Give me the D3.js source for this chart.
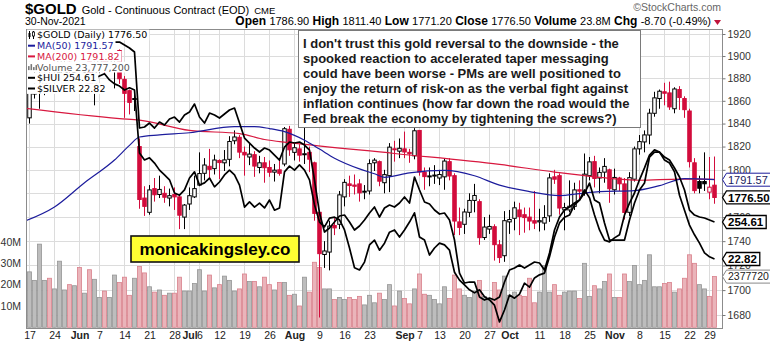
<!DOCTYPE html>
<html>
<head>
<meta charset="utf-8">
<title>$GOLD Daily</title>
<script src="https://cdn.jsdelivr.net/npm/d3@7/dist/d3.min.js"></script>
<style>
  html, body { margin: 0; padding: 0; background: #fff; }
  svg { display: block; }
</style>
</head>
<body>
<svg id="chart" width="770" height="344"></svg>
<script>
// ---- trading days ----
const dates = [
  "2021-05-14","2021-05-17","2021-05-18","2021-05-19","2021-05-20","2021-05-21","2021-05-24","2021-05-25","2021-05-26","2021-05-27","2021-05-28",
  "2021-06-01","2021-06-02","2021-06-03","2021-06-04","2021-06-07","2021-06-08","2021-06-09","2021-06-10","2021-06-11","2021-06-14","2021-06-15","2021-06-16","2021-06-17","2021-06-18","2021-06-21","2021-06-22","2021-06-23","2021-06-24","2021-06-25","2021-06-28","2021-06-29","2021-06-30",
  "2021-07-01","2021-07-02","2021-07-06","2021-07-07","2021-07-08","2021-07-09","2021-07-12","2021-07-13","2021-07-14","2021-07-15","2021-07-16","2021-07-19","2021-07-20","2021-07-21","2021-07-22","2021-07-23","2021-07-26","2021-07-27","2021-07-28","2021-07-29","2021-07-30",
  "2021-08-02","2021-08-03","2021-08-04","2021-08-05","2021-08-06","2021-08-09","2021-08-10","2021-08-11","2021-08-12","2021-08-13","2021-08-16","2021-08-17","2021-08-18","2021-08-19","2021-08-20","2021-08-23","2021-08-24","2021-08-25","2021-08-26","2021-08-27","2021-08-30","2021-08-31",
  "2021-09-01","2021-09-02","2021-09-03","2021-09-07","2021-09-08","2021-09-09","2021-09-10","2021-09-13","2021-09-14","2021-09-15","2021-09-16","2021-09-17","2021-09-20","2021-09-21","2021-09-22","2021-09-23","2021-09-24","2021-09-27","2021-09-28","2021-09-29","2021-09-30",
  "2021-10-01","2021-10-04","2021-10-05","2021-10-06","2021-10-07","2021-10-08","2021-10-11","2021-10-12","2021-10-13","2021-10-14","2021-10-15","2021-10-18","2021-10-19","2021-10-20","2021-10-21","2021-10-22","2021-10-25","2021-10-26","2021-10-27","2021-10-28","2021-10-29",
  "2021-11-01","2021-11-02","2021-11-03","2021-11-04","2021-11-05","2021-11-08","2021-11-09","2021-11-10","2021-11-11","2021-11-12","2021-11-15","2021-11-16","2021-11-17","2021-11-18","2021-11-19","2021-11-22","2021-11-23","2021-11-24","2021-11-26","2021-11-29","2021-11-30"
];

// ---- $GOLD daily OHLC ----
const open = [
  1826,1845,1866,1868,1872,1878,1877,1881,1899,1900,1897,
  1906,1900,1907,1872,1891,1899,1894,1896,1905,1879,1869,1862,1820,1776,1764,1784,1779,1780,1776,1779,1777,1760,
  1771,1777,1787,1797,1803,1801,1808,1806,1809,1825,1828,1815,1811,1813,1802,1806,1802,1798,1800,1805,1835,
  1815,1818,1813,1815,1806,1764,1729,1731,1753,1754,1777,1788,1787,1788,1781,1782,1806,1807,1789,1795,1818,1816,
  1818,1815,1812,1834,1798,1794,1795,1793,1794,1807,1795,1756,1754,1764,1774,1773,1743,1750,1752,1737,1728,
  1756,1759,1766,1762,1760,1757,1756,1755,1761,1794,1795,1766,1766,1769,1783,1780,1795,1807,1793,1798,1800,
  1783,1793,1788,1764,1792,1818,1824,1830,1849,1862,1868,1867,1853,1870,1862,1851,1806,1790,1790,1781,1786.9
];
const high = [
  1845,1869,1890,1890,1885,1889,1885,1901,1913,1904,1906,
  1917,1910,1910,1895,1903,1903,1900,1903,1906,1882,1870,1866,1827,1786,1787,1793,1795,1786,1784,1785,1778,1771,
  1785,1795,1815,1810,1818,1813,1809,1817,1829,1834,1830,1820,1823,1816,1812,1811,1808,1805,1809,1837,1838,
  1823,1822,1837,1820,1807,1766,1740,1757,1759,1782,1792,1795,1796,1792,1787,1809,1810,1808,1800,1823,1825,1827,
  1833,1818,1836,1834,1802,1802,1804,1800,1810,1810,1797,1768,1767,1780,1788,1775,1760,1762,1754,1741,1765,
  1766,1773,1772,1768,1768,1782,1767,1770,1797,1800,1797,1772,1791,1789,1791,1814,1811,1812,1802,1810,1801,
  1801,1794,1793,1798,1820,1830,1834,1853,1868,1870,1876,1877,1872,1873,1864,1853,1810,1795,1815,1811,1811.4
];
const low = [
  1823,1840,1862,1853,1865,1868,1874,1876,1891,1884,1880,
  1897,1896,1866,1856,1885,1885,1886,1871,1875,1845,1848,1851,1767,1761,1762,1773,1776,1772,1769,1766,1750,1750,
  1766,1776,1786,1791,1793,1796,1792,1799,1803,1822,1810,1795,1804,1794,1797,1789,1794,1790,1795,1803,1812,
  1808,1807,1805,1798,1757,1678,1718,1716,1745,1750,1769,1777,1779,1773,1775,1779,1799,1786,1780,1781,1807,1810,
  1810,1806,1809,1795,1783,1786,1788,1787,1783,1791,1745,1745,1746,1760,1764,1737,1741,1746,1724,1722,1723,
  1746,1749,1745,1747,1749,1750,1748,1749,1756,1788,1762,1749,1764,1766,1775,1778,1791,1785,1780,1789,1772,
  1779,1782,1758,1761,1790,1813,1815,1822,1846,1853,1856,1852,1849,1852,1845,1802,1780,1780,1782,1775,1771.2
];
const close = [
  1838.1,1867.6,1868.4,1870.0,1877.3,1876.1,1881.5,1898.0,1901.4,1895.7,1902.5,
  1899.5,1906.0,1871.0,1892.0,1898.8,1894.1,1896.4,1898.6,1879.6,1866.6,1858.6,1861.4,1774.8,1769.0,1782.9,1778.8,1783.3,1776.7,1778.0,1777.0,1761.6,1770.1,
  1778.0,1784.0,1796.8,1804.1,1800.4,1808.4,1806.2,1808.5,1824.4,1828.3,1815.2,1812.8,1813.5,1803.2,1806.0,1801.8,1797.9,1799.7,1797.0,1835.5,1817.2,
  1819.0,1812.6,1813.8,1809.1,1763.1,1729.7,1731.9,1752.5,1751.0,1778.7,1789.3,1786.6,1786.0,1780.4,1781.8,1805.3,1808.3,1790.3,1795.9,1819.5,1818.1,1818.5,
  1815.3,1813.8,1833.7,1798.1,1794.2,1794.8,1795.5,1796.0,1807.5,1794.7,1756.7,1751.4,1764.3,1774.0,1778.2,1742.9,1751.7,1752.2,1737.1,1726.5,1757.0,
  1758.0,1767.8,1760.4,1759.6,1756.7,1755.0,1757.0,1759.6,1793.1,1792.0,1767.6,1768.0,1769.1,1782.9,1781.9,1796.3,1806.8,1792.6,1797.8,1802.9,1783.9,
  1793.5,1788.1,1763.9,1793.3,1818.0,1824.3,1830.1,1849.1,1862.6,1868.5,1866.7,1854.6,1870.5,1862.9,1852.2,1807.0,1782.3,1784.3,1788.1,1785.2,1776.5
];
// volume, millions of contracts
const volume = [
  22,26,22,39,22,23,18,31,17.5,20,19.5,
  28,16,27,22.5,14,17,14,24.5,21,23.5,15,23,28.5,25.5,19,16.5,17.5,15,16,16,23.5,17,
  17,20.5,27,17,24.5,18.5,20,24,22,17,18,25,21.5,21.5,19,23.5,20,17.5,21,21,15,
  15.5,10,23.5,16.5,30.5,28,18,18,13,14,13,14,13,14.5,10.5,15,11.5,16,13,20,10,17,
  13.5,11,18,25,15.5,15,13,11,19,13.5,24.5,18,15,14,17,22,14.5,13.5,21,17.5,24,
  15,16.5,15,14.5,23,11.5,16.5,29,16.5,20,15,16.5,17,17,13.5,30,14.5,19.5,18,21.5,25,
  14,14,25,21.5,29,20,22,34,19,19,20.5,21,16.5,18,23,34,30,20,18,14.5,23.7772
];

// ---- overlays ----
const hui = [
  319.4,322.6,323.4,321.4,323.4,324.2,322.6,324.6,325.4,323.4,324.2,
  325.8,325.0,321.4,323.4,324.2,324.6,325.4,326.6,326.6,325.4,324.2,322.6,292.2,292.6,294.2,292.2,294.6,293.4,295.8,296.6,294.6,297.4,
  298.6,301.8,296.6,294.2,298.2,297.4,296.2,297.8,299.4,300.2,294.2,288.2,286.2,284.2,282.6,284.2,283.4,281.4,279.4,284.6,286.6,
  286.2,286.6,285.4,283.4,271.4,258.2,250.6,252.2,254.6,257.0,257.4,254.6,251.4,253.0,255.4,258.2,260.6,256.6,260.2,261.4,260.6,262.2,
  264.6,262.2,272.6,267.4,262.6,261.8,259.4,257.8,258.2,255.4,247.4,234.2,230.2,230.6,230.6,224.6,223.4,224.2,223.4,224.6,230.6,
  235.4,236.2,237.4,236.2,237.4,238.6,238.2,235.4,242.2,251.4,256.6,259.4,260.6,262.2,263.4,266.2,270.2,263.4,262.2,254.2,247.4,
  247.4,247.4,247.4,255.4,262.2,267.4,270.2,280.6,282.6,282.6,280.6,279.4,276.2,272.6,267.4,259.4,257.4,256.6,256.2,255.4,254.61
];
const silver = [
  26.77,26.93,27.00,26.89,26.93,26.89,26.93,27.07,27.12,26.98,27.07,
  27.12,27.07,26.84,26.93,26.98,27.03,26.89,26.80,26.75,26.66,26.71,26.66,25.23,25.07,25.12,25.00,24.84,24.73,24.62,24.32,24.27,24.39,
  24.66,24.80,24.50,24.55,24.66,24.46,24.57,24.73,24.84,24.73,24.50,24.00,24.12,24.00,24.09,23.98,24.16,23.93,23.98,24.80,24.93,
  24.84,24.96,24.84,24.62,24.05,23.66,23.55,23.75,23.77,23.71,23.48,23.07,22.62,22.57,22.75,23.14,23.25,23.02,23.18,23.43,23.48,23.32,
  23.48,23.66,23.87,23.32,23.25,22.91,23.07,23.18,23.14,23.02,22.52,22.34,22.23,22.12,22.05,22.12,21.96,21.89,21.77,21.39,21.66,
  22.00,21.93,22.02,22.27,22.18,22.39,22.46,22.50,22.87,23.32,23.64,23.77,23.82,24.05,24.16,24.39,24.21,23.82,23.48,23.25,23.21,
  23.30,23.37,23.82,24.09,24.32,24.62,24.89,25.18,25.30,25.25,25.07,25.00,24.80,24.27,23.93,23.59,23.37,23.18,22.96,22.87,22.82
];

// ---- moving averages (sampled) ----
const ma50Dates = ["2021-05-14","2021-05-24","2021-06-02","2021-06-10","2021-06-15","2021-06-17","2021-06-23","2021-07-01","2021-07-15","2021-07-21","2021-07-26","2021-07-29","2021-08-04","2021-08-09","2021-08-12","2021-08-19","2021-08-24","2021-08-26","2021-09-02","2021-09-14","2021-09-22","2021-09-29","2021-10-07","2021-10-15","2021-10-21","2021-10-27","2021-11-05","2021-11-12","2021-11-19","2021-11-30"];
const ma50 = [1756.5,1768.5,1789.0,1808.4,1821.0,1828.3,1830.1,1832.0,1837.4,1837.4,1835.6,1832.9,1825.5,1817.8,1810.0,1800.8,1796.6,1793.6,1797.4,1799.5,1794.9,1786.9,1781.5,1778.1,1779.8,1781.5,1782.3,1786.5,1792.5,1791.57];
const ma200Dates = ["2021-05-14","2021-06-11","2021-06-17","2021-07-01","2021-07-16","2021-07-23","2021-07-30","2021-08-30","2021-09-29","2021-10-14","2021-10-27","2021-11-08","2021-11-18","2021-11-30"];
const ma200 = [1853.4,1844.3,1843.0,1834.0,1831.3,1826.1,1823.4,1814.0,1804.6,1798.1,1793.6,1791.1,1792.0,1791.82];

// ---- axes ----
const priceTicks = [1680,1700,1720,1740,1760,1780,1800,1820,1840,1860,1880,1900,1920];
const priceLabelTicks = [1680,1700,1720,1740,1760,1800,1820,1840,1860,1880,1900,1920];
const volumeTicks = [10,20,30,40];
const volumeTickLabels = ["10M","20M","30M","40M"];
const tickDates = ["2021-05-17","2021-05-24","2021-06-01","2021-06-07","2021-06-14","2021-06-21","2021-06-28","2021-07-01","2021-07-06","2021-07-12","2021-07-19","2021-07-26","2021-08-02","2021-08-09","2021-08-16","2021-08-23","2021-09-01","2021-09-07","2021-09-13","2021-09-20","2021-09-27","2021-10-01","2021-10-11","2021-10-18","2021-10-25","2021-11-01","2021-11-08","2021-11-15","2021-11-22","2021-11-29"];
const tickLabels = ["17","24","Jun","7","14","21","28","Jul","6","12","19","26","Aug","9","16","23","Sep","7","13","20","27","Oct","11","18","25","Nov","8","15","22","29"];
const extraGridDates = ["2021-08-30","2021-10-04"];
const monthLabels = ["Jun","Jul","Aug","Sep","Oct","Nov"];

const noteLines = [
  "I don't trust this gold reversal to the downside - the",
  "spooked reaction to accelerated taper messaging",
  "could have been worse - PMs are well positioned to",
  "enjoy the return of risk-on as the verbal fight against",
  "inflation continues (how far down the road would the",
  "Fed break the economy by tightening the screws?)"
];
const siteLabel = "monicakingsley.co";

// ---- drawing ----
const SANS = "'Liberation Sans', Arial, sans-serif";
const VERD = "'DejaVu Sans', Verdana, sans-serif";
const RED = "#d20c3c", BLUE = "#1c1c9c", MA_RED = "#d8183f";
const P = {l: 26, r: 722, t: 29, b: 328};
const n = dates.length;
const last = n - 1;

const svg = d3.select("#chart");
svg.append("rect").attr("width", 770).attr("height", 344).attr("fill", "#fff");

const x = d3.scalePoint().domain(dates).range([24.5, 714.5]);
const y = d3.scaleLog().domain([1680, 1920]).range([315, 34]);
const yVol = d3.scaleLinear().domain([0, 40]).range([327.3, 242]);
const yHui = d3.scaleLinear().domain([254.61, 326.61]).range([222, 42]);
const ySil = d3.scaleLinear().domain([22.82, 27.82]).range([259, 39]);

svg.append("defs").append("clipPath").attr("id", "plotClip")
  .append("rect").attr("x", P.l).attr("y", P.t).attr("width", P.r - P.l).attr("height", P.b - P.t);

// grid
const grid = svg.append("g").attr("stroke", "#dcdcdc").attr("stroke-width", 1).attr("shape-rendering", "crispEdges");
grid.selectAll("line.h").data(priceTicks).join("line")
  .attr("x1", P.l).attr("x2", P.r)
  .attr("y1", d => Math.round(y(d)) + 0.5).attr("y2", d => Math.round(y(d)) + 0.5);
grid.selectAll("line.v").data(tickDates.concat(extraGridDates)).join("line")
  .attr("x1", d => x(d)).attr("x2", d => x(d))
  .attr("y1", P.t).attr("y2", P.b);

const plot = svg.append("g").attr("clip-path", "url(#plotClip)");
const isDown = i => i > 0 && close[i] < close[i - 1];

// volume bars
plot.append("g").selectAll("rect").data(d3.range(n)).join("rect")
  .attr("x", i => x(dates[i]) - 2)
  .attr("width", 4)
  .attr("y", i => yVol(volume[i]))
  .attr("height", i => yVol(0) - yVol(volume[i]))
  .attr("fill", i => isDown(i) ? "#eab4ba" : "#bdbdbd")
  .attr("stroke", i => isDown(i) ? "#d9808c" : "#959595")
  .attr("stroke-width", 0.8);

// candles: hollow when close >= open, red when close < previous close
const cg = plot.append("g");
d3.range(n).forEach(i => {
  const cx = x(dates[i]);
  const col = isDown(i) ? RED : "#000";
  const hollow = close[i] >= open[i];
  cg.append("line")
    .attr("x1", cx).attr("x2", cx)
    .attr("y1", y(high[i])).attr("y2", y(low[i]))
    .attr("stroke", col).attr("stroke-width", 1);
  const top = y(Math.max(open[i], close[i]));
  const bot = y(Math.min(open[i], close[i]));
  cg.append("rect")
    .attr("x", cx - 1.75).attr("width", 3.5)
    .attr("y", top).attr("height", Math.max(1, bot - top))
    .attr("fill", hollow ? "#fff" : col)
    .attr("stroke", col).attr("stroke-width", 1);
});

// moving averages
const lineMA = d3.line().x(d => x(d[0])).y(d => y(d[1])).curve(d3.curveMonotoneX);
plot.append("path").datum(ma200Dates.map((d, i) => [d, ma200[i]]))
  .attr("d", lineMA).attr("fill", "none").attr("stroke", MA_RED).attr("stroke-width", 1.2);
plot.append("path").datum(ma50Dates.map((d, i) => [d, ma50[i]]))
  .attr("d", lineMA).attr("fill", "none").attr("stroke", BLUE).attr("stroke-width", 1.2);

// $HUI and $SILVER overlays
plot.append("path").datum(d3.range(n))
  .attr("d", d3.line().x(i => x(dates[i])).y(i => yHui(hui[i])))
  .attr("fill", "none").attr("stroke", "#000").attr("stroke-width", 1.7).attr("stroke-linejoin", "round");
plot.append("path").datum(d3.range(n))
  .attr("d", d3.line().x(i => x(dates[i])).y(i => ySil(silver[i])))
  .attr("fill", "none").attr("stroke", "#000").attr("stroke-width", 1.7).attr("stroke-linejoin", "round");

// plot border
svg.append("rect").attr("x", P.l + 0.5).attr("y", P.t + 0.5)
  .attr("width", P.r - P.l).attr("height", P.b - P.t)
  .attr("fill", "none").attr("stroke", "#8c8c8c");

// right price axis
const yAxis = svg.append("g").attr("transform", `translate(${P.r + 0.5},0)`)
  .call(d3.axisRight(y).tickValues(priceTicks)
    .tickFormat(d => priceLabelTicks.includes(d) ? d3.format("d")(d) : "")
    .tickSize(3).tickPadding(2));
yAxis.select(".domain").remove();
yAxis.selectAll("line").attr("stroke", "#777");
yAxis.selectAll("text").attr("font-family", SANS).attr("font-size", 10.5).attr("fill", "#333");

// left volume labels
svg.append("g").selectAll("text").data(volumeTicks).join("text")
  .attr("x", 21).attr("y", d => yVol(d)).attr("dy", "0.35em")
  .attr("text-anchor", "end").attr("font-family", SANS).attr("font-size", 10.5).attr("fill", "#333")
  .text((d, i) => volumeTickLabels[i]);

// date axis
const xAxis = svg.append("g").attr("transform", `translate(0,${P.b})`)
  .call(d3.axisBottom(x).tickValues(tickDates).tickFormat((d, i) => tickLabels[i]).tickSize(0).tickPadding(4));
xAxis.select(".domain").remove();
xAxis.selectAll("text").attr("font-family", SANS).attr("font-size", 10.5).attr("fill", "#222")
  .attr("font-weight", (d, i) => monthLabels.includes(tickLabels[i]) ? "bold" : "normal");

// header: symbol, name, exchange laid out one after another
let hx = 25;
const sym = svg.append("text").attr("x", hx).attr("y", 14).attr("font-family", SANS).attr("font-size", 15)
  .attr("font-weight", "bold").attr("fill", "#000").text("$GOLD");
hx += sym.node().getComputedTextLength() + 5;
const nm = svg.append("text").attr("x", hx).attr("y", 14).attr("font-family", SANS).attr("font-size", 11)
  .attr("fill", "#000").text("Gold - Continuous Contract (EOD)");
hx += nm.node().getComputedTextLength() + 5;
svg.append("text").attr("x", hx).attr("y", 14).attr("font-family", SANS).attr("font-size", 9.5)
  .attr("fill", "#000").text("CME");
svg.append("text").attr("x", 25).attr("y", 25).attr("font-family", SANS).attr("font-size", 10.5)
  .attr("fill", "#000").text("30-Nov-2021");
svg.append("text").attr("x", 721).attr("y", 11).attr("text-anchor", "end").attr("font-family", SANS)
  .attr("font-size", 10.5).attr("fill", "#666").text("\u00A9StockCharts.com");

const chg = close[last] - close[last - 1];
const stats = [
  ["Open", open[last].toFixed(2)], ["High", high[last].toFixed(2)], ["Low", low[last].toFixed(2)],
  ["Close", close[last].toFixed(2)], ["Volume", (volume[last]).toFixed(1) + "M"],
  ["Chg", `${chg.toFixed(2)} (${(chg / close[last - 1] * 100).toFixed(2)}%)`]
];
const hdr = svg.append("text").attr("x", 711).attr("y", 25).attr("text-anchor", "end")
  .attr("font-family", SANS).attr("fill", "#000");
stats.forEach(([k, v], i) => {
  hdr.append("tspan").attr("font-weight", "bold").attr("font-size", 12).text((i ? " " : "") + k + " ");
  hdr.append("tspan").attr("font-size", 11).text(v);
});
svg.append("path").attr("d", "M714,20 L721,20 L717.5,25 Z").attr("fill", "#c0143c");

// legend
const legendRows = [
  {text: `$GOLD (Daily) ${close[last].toFixed(2)}`, color: "#000", icon: "candle"},
  {text: `MA(50) ${ma50[ma50.length - 1].toFixed(2)}`, color: BLUE, icon: "line", iconColor: BLUE},
  {text: `MA(200) ${ma200[ma200.length - 1].toFixed(2)}`, color: MA_RED, icon: "line", iconColor: MA_RED},
  {text: `Volume ${d3.format(",")(Math.round(volume[last] * 1e6))}`, color: "#555", icon: "bars"},
  {text: `$HUI ${hui[last].toFixed(2)}`, color: "#000", icon: "line", iconColor: "#000"},
  {text: `$SILVER ${silver[last].toFixed(2)}`, color: "#000", icon: "line", iconColor: "#000"}
];
const lg = svg.append("g");
legendRows.forEach((r, k) => {
  const cy = 35 + k * 10.7;
  const bg = lg.append("rect").attr("fill", "#fff");
  const t = lg.append("text").attr("x", 37).attr("y", cy).attr("dy", "0.36em")
    .attr("font-family", VERD).attr("font-size", 9.5).attr("fill", r.color).text(r.text);
  const w = t.node().getComputedTextLength();
  bg.attr("x", 27).attr("y", cy - 5.4).attr("width", w + 12).attr("height", 10.8);
  if (r.icon === "line") {
    lg.append("line").attr("x1", 28).attr("x2", 35).attr("y1", cy).attr("y2", cy)
      .attr("stroke", r.iconColor).attr("stroke-width", 2);
  } else if (r.icon === "candle") {
    lg.append("path").attr("d", `M29.5,${cy - 4}V${cy + 4}M33.5,${cy - 4}V${cy + 4}`)
      .attr("stroke", "#000").attr("stroke-width", 1);
    lg.append("rect").attr("x", 28.5).attr("y", cy - 2).attr("width", 2).attr("height", 4).attr("fill", "#000");
    lg.append("rect").attr("x", 32.5).attr("y", cy - 3).attr("width", 2).attr("height", 4)
      .attr("fill", "#fff").attr("stroke", "#000").attr("stroke-width", 0.8);
  } else {
    [[28, 4], [30.5, 6], [33, 3], [35.5, 5]].forEach(([bx, bh]) =>
      lg.append("rect").attr("x", bx).attr("y", cy + 3 - bh).attr("width", 1.6).attr("height", bh).attr("fill", "#777"));
  }
});

// commentary box
const note = svg.append("g");
note.append("rect").attr("x", 298.5).attr("y", 30.5).attr("width", 342).attr("height", 97)
  .attr("fill", "#fff").attr("stroke", "#7a7a7a");
note.selectAll("text").data(noteLines).join("text")
  .attr("x", 303).attr("y", (d, i) => 47.5 + i * 15)
  .attr("font-family", SANS).attr("font-size", 13).attr("font-weight", "bold").attr("fill", "#1a1a1a")
  .text(d => d);

// site label
svg.append("rect").attr("x", 131).attr("y", 236).attr("width", 168).attr("height", 26)
  .attr("fill", "#ffff33").attr("stroke", "#111").attr("stroke-width", 1.6);
svg.append("text").attr("x", 215).attr("y", 249).attr("dy", "0.36em").attr("text-anchor", "middle")
  .attr("font-family", SANS).attr("font-size", 17).attr("font-weight", "bold").attr("fill", "#000")
  .text(siteLabel);

// last-value tags on the price axis
function tag(cy, label, opt) {
  const g = svg.append("g");
  const shape = g.append("path");
  const t = g.append("text").attr("x", 728).attr("y", cy).attr("dy", "0.36em")
    .attr("font-family", SANS).attr("font-size", opt.size || 11)
    .attr("font-weight", opt.bold ? "bold" : "normal").attr("fill", opt.text || "#000").text(label);
  const w = t.node().getComputedTextLength();
  shape.attr("d", `M${P.r + 0.5},${cy} L${726.5},${cy - 6.5} H${731 + w} V${cy + 6.5} H${726.5} Z`)
    .attr("fill", "#fff").attr("stroke", opt.stroke).attr("stroke-width", opt.bold ? 1.3 : 1);
}
tag(y(ma50[ma50.length - 1]), ma50[ma50.length - 1].toFixed(2), {stroke: BLUE, text: "#1a1a60"});
tag(y(close[last]), close[last].toFixed(2), {stroke: "#000", bold: true, size: 11.5});
tag(yHui(hui[last]), hui[last].toFixed(2), {stroke: "#000", bold: true, size: 11.5});
tag(ySil(silver[last]), silver[last].toFixed(2), {stroke: "#000", bold: true, size: 11.5});
tag(yVol(volume[last]), String(Math.round(volume[last] * 1e5)), {stroke: "#888", text: "#222", size: 10.5});
</script>
</body>
</html>
